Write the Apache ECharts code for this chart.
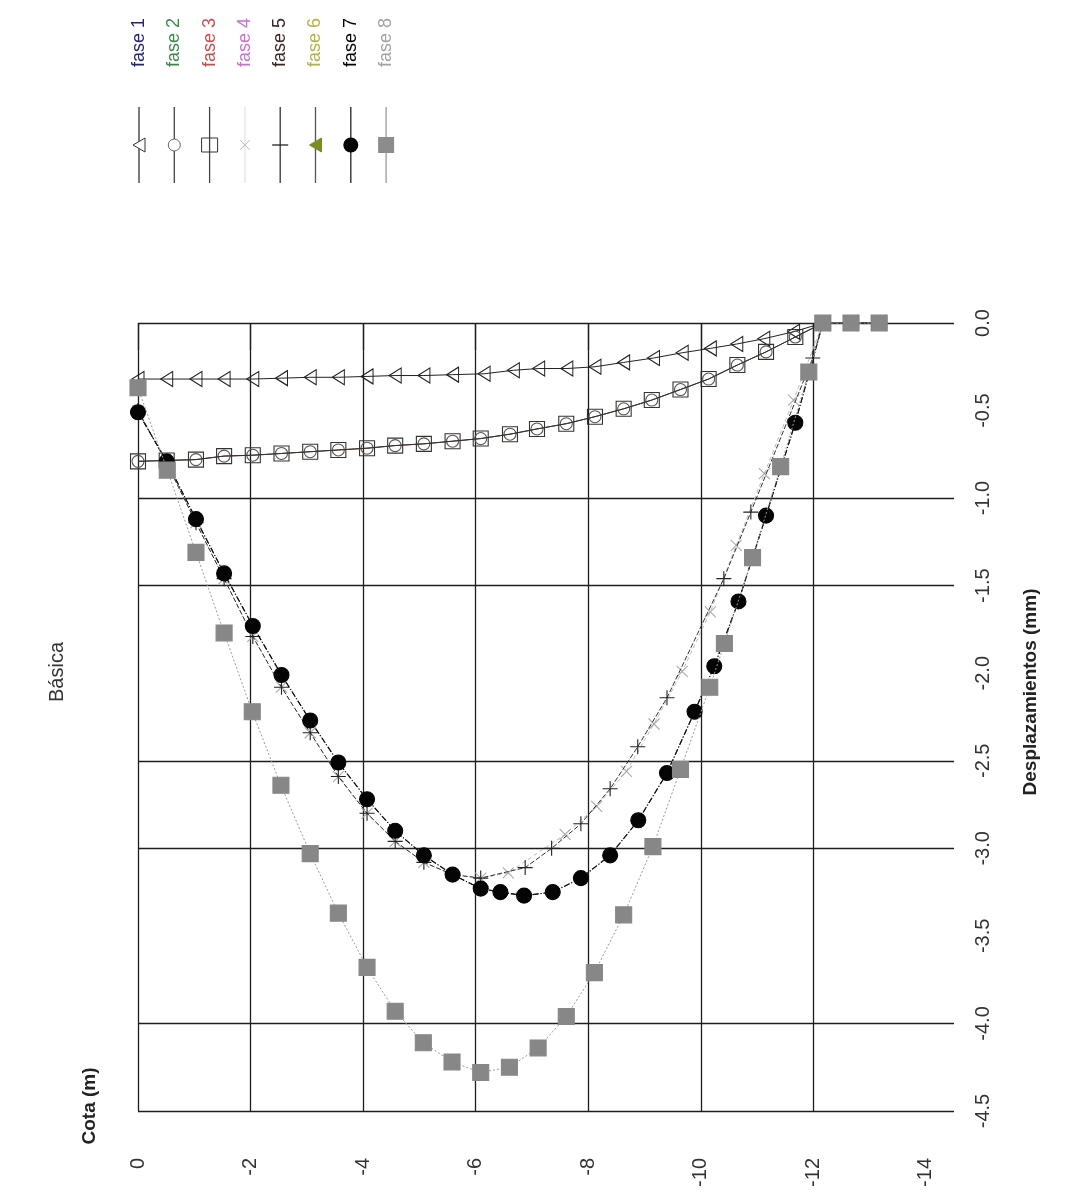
<!DOCTYPE html>
<html>
<head>
<meta charset="utf-8">
<script src="https://cdn.jsdelivr.net/npm/echarts@6/dist/echarts.min.js"></script>
<style>
  html, body { margin: 0; padding: 0; background: #fff; }
  #chart { width: 1070px; height: 1200px; }
</style>
</head>
<body>
<div id="chart"></div>
<script>
// ---- data -------------------------------------------------------------
const faseNames = ['fase 1', 'fase 2', 'fase 3', 'fase 4', 'fase 5', 'fase 6', 'fase 7', 'fase 8'];

// Cota (m) tick labels and the cota values that carry grid lines
const cotaLabels = [0, -2, -4, -6, -8, -10, -12, -14];
const cotaGridLines = [0, -2, -4, -6, -8, -10, -12];
// Desplazamientos (mm) tick labels and the ones that carry grid lines
const dispLabels = [0, -0.5, -1, -1.5, -2, -2.5, -3, -3.5, -4, -4.5];
const dispGridLines = [0, -1, -1.5, -2.5, -3, -4, -4.5];

const fase1Cota = [0, -0.51, -1.03, -1.53, -2.04, -2.55, -3.06, -3.56, -4.07, -4.57, -5.08, -5.59, -6.15, -6.67, -7.12, -7.62, -8.12, -8.63, -9.16, -9.67, -10.17, -10.64, -11.12, -11.65, -12.17, -12.67, -13.17];
const fase1Disp = [-0.32, -0.32, -0.32, -0.32, -0.32, -0.315, -0.31, -0.31, -0.305, -0.30, -0.30, -0.295, -0.29, -0.27, -0.26, -0.26, -0.25, -0.225, -0.20, -0.17, -0.145, -0.12, -0.09, -0.05, 0, 0, 0];

const fase2Cota = [0, -0.51, -1.03, -1.53, -2.04, -2.55, -3.06, -3.56, -4.07, -4.57, -5.08, -5.59, -6.09, -6.61, -7.09, -7.61, -8.12, -8.63, -9.13, -9.64, -10.14, -10.65, -11.16, -11.68, -12.17, -12.67, -13.17];
const fase2Disp = [-0.79, -0.785, -0.78, -0.76, -0.755, -0.745, -0.735, -0.725, -0.715, -0.70, -0.69, -0.675, -0.66, -0.635, -0.605, -0.575, -0.535, -0.49, -0.44, -0.38, -0.32, -0.24, -0.165, -0.08, 0, 0, 0];

const fase3Cota = [0, -0.51, -1.03, -1.53, -2.04, -2.55, -3.06, -3.56, -4.07, -4.57, -5.08, -5.59, -6.09, -6.61, -7.09, -7.61, -8.12, -8.63, -9.13, -9.64, -10.14, -10.65, -11.16, -11.68, -12.17, -12.67, -13.17];
const fase3Disp = [-0.79, -0.785, -0.78, -0.76, -0.755, -0.745, -0.735, -0.725, -0.715, -0.70, -0.69, -0.675, -0.66, -0.635, -0.605, -0.575, -0.535, -0.49, -0.44, -0.38, -0.32, -0.24, -0.165, -0.08, 0, 0, 0];

const fase4Cota = [0, -0.51, -1.03, -1.53, -2.04, -2.55, -3.06, -3.56, -4.07, -4.57, -5.08, -5.59, -6.09, -6.58, -7.59, -8.15, -8.68, -9.17, -9.67, -10.17, -10.63, -11.13, -11.65, -12.17, -12.67, -13.17];
const fase4Disp = [-0.50, -0.80, -1.14, -1.46, -1.79, -2.08, -2.34, -2.59, -2.80, -2.96, -3.08, -3.15, -3.17, -3.14, -2.92, -2.76, -2.56, -2.29, -1.99, -1.65, -1.27, -0.86, -0.44, 0, 0, 0];

const fase5Cota = [0, -0.51, -1.03, -1.53, -2.04, -2.55, -3.06, -3.56, -4.07, -4.57, -5.08, -5.59, -6.09, -6.88, -7.35, -7.87, -8.39, -8.88, -9.40, -10.41, -10.89, -11.99, -12.17, -12.67, -13.17];
const fase5Disp = [-0.50, -0.80, -1.14, -1.46, -1.79, -2.08, -2.34, -2.59, -2.80, -2.96, -3.08, -3.15, -3.17, -3.11, -3.00, -2.86, -2.66, -2.42, -2.14, -1.46, -1.08, -0.20, 0, 0, 0];

const fase6Cota = [0, -0.51, -1.03, -1.53, -2.04, -2.55, -3.06, -3.56, -4.07, -4.57, -5.08, -5.59, -6.09, -6.44, -6.86, -7.37, -7.87, -8.39, -8.89, -9.40, -9.89, -10.24, -10.67, -11.16, -11.68, -12.17, -12.67, -13.17];
const fase6Disp = [-0.51, -0.79, -1.12, -1.43, -1.73, -2.01, -2.27, -2.51, -2.72, -2.90, -3.04, -3.15, -3.23, -3.25, -3.27, -3.25, -3.17, -3.04, -2.84, -2.57, -2.22, -1.96, -1.59, -1.10, -0.57, 0, 0, 0];

const fase7Cota = [0, -0.51, -1.03, -1.53, -2.04, -2.55, -3.06, -3.56, -4.07, -4.57, -5.08, -5.59, -6.09, -6.44, -6.86, -7.37, -7.87, -8.39, -8.89, -9.40, -9.89, -10.24, -10.67, -11.16, -11.68, -12.17, -12.67, -13.17];
const fase7Disp = [-0.51, -0.79, -1.12, -1.43, -1.73, -2.01, -2.27, -2.51, -2.72, -2.90, -3.04, -3.15, -3.23, -3.25, -3.27, -3.25, -3.17, -3.04, -2.84, -2.57, -2.22, -1.96, -1.59, -1.10, -0.57, 0, 0, 0];

const fase8Cota = [0, -0.52, -1.03, -1.53, -2.03, -2.54, -3.06, -3.56, -4.07, -4.57, -5.07, -5.58, -6.09, -6.60, -7.11, -7.61, -8.11, -8.63, -9.15, -9.64, -10.16, -10.42, -10.92, -11.42, -11.92, -12.17, -12.67, -13.17];
const fase8Disp = [-0.37, -0.84, -1.31, -1.77, -2.22, -2.64, -3.03, -3.37, -3.68, -3.93, -4.11, -4.22, -4.28, -4.25, -4.14, -3.96, -3.71, -3.38, -2.99, -2.55, -2.08, -1.83, -1.34, -0.82, -0.28, 0, 0, 0];

// ---- styling ------------------------------------------------------------
const FONT = '"Liberation Sans", Arial, sans-serif';
const GRID_COLOR = '#1e1e1e';
const LABEL_COLOR = '#333';

const pairs = (xs, ys) => xs.map((x, i) => [x, ys[i]]);

const SYM_TRI_LEFT = 'path://M12,0 L0,7 L12,14 Z';
const SYM_CROSS_X = 'path://M0,0 L10,10 M10,0 L0,10';
const SYM_PLUS = 'path://M7,0 L7,14 M0,7 L14,7';
const DASH_DOT = [6, 2, 1, 2];

const seriesStyles = [
  { cota: fase1Cota, disp: fase1Disp, symbol: SYM_TRI_LEFT, size: [12, 15], fill: 'transparent', stroke: '#222', line: '#222', type: 'solid', lw: 1 },
  { cota: fase2Cota, disp: fase2Disp, symbol: 'circle', size: 12, fill: 'transparent', stroke: '#555', line: '#333', type: 'solid', lw: 1 },
  { cota: fase3Cota, disp: fase3Disp, symbol: 'rect', size: 15, fill: 'transparent', stroke: '#333', line: '#3b2f2a', type: 'solid', lw: 1 },
  { cota: fase4Cota, disp: fase4Disp, symbol: SYM_CROSS_X, size: 11, fill: 'transparent', stroke: '#aaa', line: '#bbb', type: [4, 3], lw: 1 },
  { cota: fase5Cota, disp: fase5Disp, symbol: SYM_PLUS, size: 15, fill: 'transparent', stroke: '#222', line: '#333', type: [5, 2], lw: 1 },
  { cota: fase6Cota, disp: fase6Disp, symbol: 'triangle', size: 9, fill: '#7d8c1e', stroke: '#7d8c1e', line: '#222', type: DASH_DOT, lw: 1 },
  { cota: fase7Cota, disp: fase7Disp, symbol: 'circle', size: 15, fill: '#050505', stroke: '#050505', line: '#111', type: DASH_DOT, lw: 1.2 },
  { cota: fase8Cota, disp: fase8Disp, symbol: 'rect', size: 16, fill: '#878787', stroke: '#878787', line: '#9a9a9a', type: [2, 2], lw: 1 }
];

const series = seriesStyles.map((s, i) => ({
  name: faseNames[i],
  type: 'line',
  data: pairs(s.cota, s.disp),
  symbol: s.symbol,
  symbolSize: s.size,
  showSymbol: true,
  smooth: false,
  animation: false,
  silent: true,
  z: 3 + i,
  itemStyle: { color: s.fill, borderColor: s.stroke, borderWidth: 1.1 },
  lineStyle: { color: s.line, width: s.lw, type: s.type }
}));

// ---- legend (vertical entries, reading bottom-to-top) --------------------
const legendTextColors = ['#23237a', '#3b8a4c', '#cf4a4a', '#cc6fd0', '#3a2525', '#b3b343', '#000000', '#a3a3a3'];
const legendLineColors = ['#333', '#444', '#444', '#e4e4e4', '#333', '#555', '#222', '#9a9a9a'];
const legendGraphics = [];
faseNames.forEach((name, i) => {
  const lx = 139 + i * 35.3;
  legendGraphics.push({
    type: 'text', x: lx, y: 67, rotation: Math.PI / 2, silent: true,
    style: { text: name, fill: legendTextColors[i], font: '18px ' + FONT,
             align: 'left', verticalAlign: 'middle', textAlign: 'left', textVerticalAlign: 'middle' }
  });
  legendGraphics.push({
    type: 'line', silent: true,
    shape: { x1: lx, y1: 107, x2: lx, y2: 183 },
    style: { stroke: legendLineColors[i], lineWidth: 1.3 }
  });
  const cy = 145;
  let sym;
  switch (i) {
    case 0: sym = { type: 'polygon', shape: { points: [[lx + 6, cy - 7], [lx - 6, cy], [lx + 6, cy + 7]] }, style: { fill: '#fff', stroke: '#333', lineWidth: 1 } }; break;
    case 1: sym = { type: 'circle', shape: { cx: lx, cy: cy, r: 6 }, style: { fill: '#fff', stroke: '#666', lineWidth: 1 } }; break;
    case 2: sym = { type: 'rect', shape: { x: lx - 8, y: cy - 7, width: 16, height: 14 }, style: { fill: 'none', stroke: '#333', lineWidth: 1 } }; break;
    case 3: sym = { type: 'polyline', shape: { points: [[lx - 5, cy - 5], [lx + 5, cy + 5]] }, style: { stroke: '#bbb', lineWidth: 1 } }; break;
    case 4: sym = { type: 'line', shape: { x1: lx - 8, y1: cy, x2: lx + 8, y2: cy }, style: { stroke: '#222', lineWidth: 1.3 } }; break;
    case 5: sym = { type: 'polygon', shape: { points: [[lx + 6, cy - 7], [lx - 6, cy], [lx + 6, cy + 7]] }, style: { fill: '#7d8c1e', stroke: '#7d8c1e' } }; break;
    case 6: sym = { type: 'circle', shape: { cx: lx, cy: cy, r: 7.5 }, style: { fill: '#050505' } }; break;
    case 7: sym = { type: 'rect', shape: { x: lx - 8, y: cy - 8, width: 16, height: 16 }, style: { fill: '#8c8c8c' } }; break;
  }
  sym.silent = true;
  legendGraphics.push(sym);
  if (i === 3) {
    legendGraphics.push({ type: 'polyline', silent: true, shape: { points: [[lx + 5, cy - 5], [lx - 5, cy + 5]] }, style: { stroke: '#bbb', lineWidth: 1 } });
  }
});

// ---- titles ------------------------------------------------------------
const titleGraphics = [
  { type: 'text', x: 57, y: 672, rotation: Math.PI / 2, silent: true,
    style: { text: 'Básica', fill: '#333', font: '20px ' + FONT, align: 'center', verticalAlign: 'middle', textAlign: 'center', textVerticalAlign: 'middle' } },
  { type: 'text', x: 90, y: 1106, rotation: Math.PI / 2, silent: true,
    style: { text: 'Cota (m)', fill: '#222', font: 'bold 19px ' + FONT, align: 'center', verticalAlign: 'middle', textAlign: 'center', textVerticalAlign: 'middle' } },
  { type: 'text', x: 1031, y: 692, rotation: Math.PI / 2, silent: true,
    style: { text: 'Desplazamientos (mm)', fill: '#222', font: 'bold 19px ' + FONT, align: 'center', verticalAlign: 'middle', textAlign: 'center', textVerticalAlign: 'middle' } }
];

const chart = echarts.init(document.getElementById('chart'), null, { renderer: 'canvas' });
chart.setOption({
  backgroundColor: '#ffffff',
  animation: false,
  grid: { left: 138, right: 116, top: 323, bottom: 89, containLabel: false },
  xAxis: {
    type: 'value',
    inverse: true,
    min: -14.5,
    max: 0,
    position: 'bottom',
    axisLine: { show: false },
    axisTick: { show: true, customValues: cotaGridLines, length: 27, inside: false, lineStyle: { color: GRID_COLOR, width: 1.3 } },
    axisLabel: { customValues: cotaLabels, rotate: 90, margin: 47, fontSize: 20, color: LABEL_COLOR, fontFamily: FONT,
                 formatter: v => String(v) },
    splitLine: { show: true, lineStyle: { color: GRID_COLOR, width: 1.3 } }
  },
  yAxis: {
    type: 'value',
    position: 'right',
    min: -4.5,
    max: 0,
    interval: 0.5,
    axisLine: { show: false },
    axisTick: { show: false, customValues: dispGridLines },
    axisLabel: { customValues: dispLabels, rotate: 90, margin: 19, fontSize: 20, color: LABEL_COLOR, fontFamily: FONT,
                 formatter: v => v.toFixed(1) },
    splitLine: { show: true, lineStyle: { color: GRID_COLOR, width: 1.3 } }
  },
  graphic: { elements: legendGraphics.concat(titleGraphics) },
  series: series
});
</script>
</body>
</html>
